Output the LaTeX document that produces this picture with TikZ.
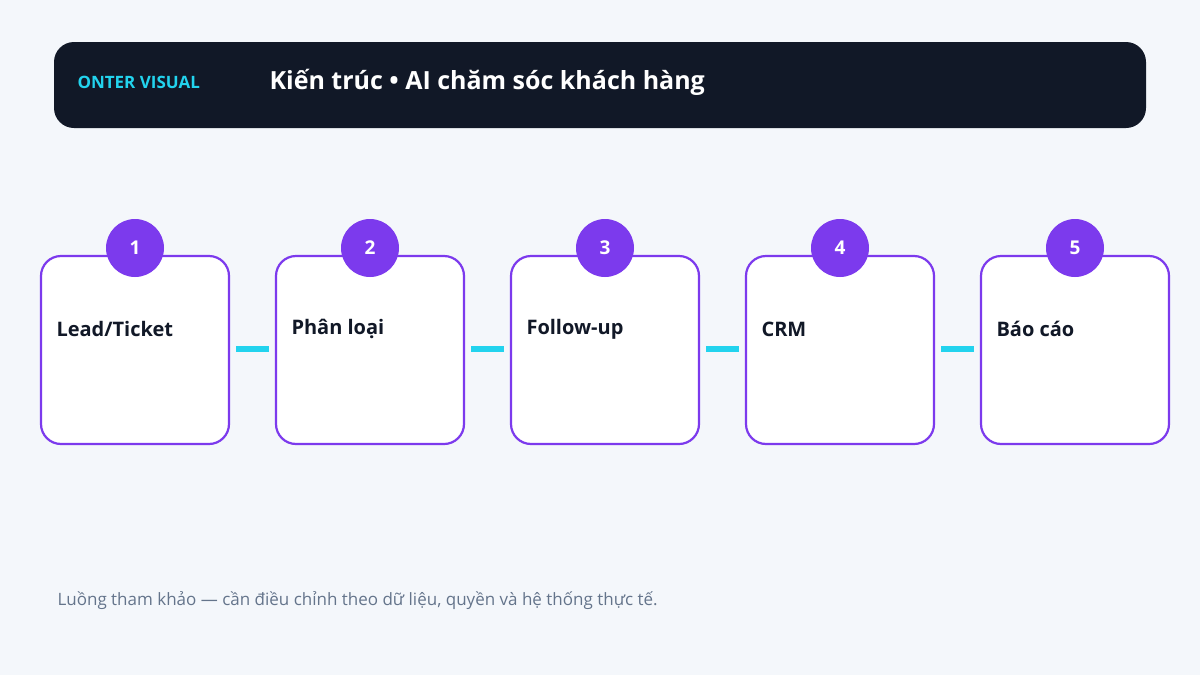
\documentclass[tikz,border=0pt]{standalone}
\usepackage{fontspec}
\setmainfont{Open Sans}
\definecolor{bg}{HTML}{F4F7FB}
\definecolor{hdr}{HTML}{111827}
\definecolor{cy}{HTML}{22D3EE}
\definecolor{pu}{HTML}{7C3AED}
\definecolor{ft}{HTML}{64748B}
\begin{document}
\begin{tikzpicture}[x=1pt,y=-1pt,
  box/.style={draw=pu,line width=2.2pt,fill=white,rounded corners=20pt,minimum width=188pt,minimum height=188pt,inner sep=0pt},
  num/.style={circle,fill=pu,minimum size=58pt,inner sep=0pt,text=white,font=\bfseries\fontsize{19}{19}\selectfont},
  lab/.style={anchor=west,font=\bfseries\fontsize{20}{20}\selectfont,text=hdr},
  conn/.style={draw=cy,line width=6pt}]
\useasboundingbox (0,0) rectangle (1200,675);
\fill[bg] (0,0) rectangle (1200,675);
\node[fill=hdr,rounded corners=20pt,minimum width=1092pt,minimum height=86pt] (hdr) at (600,85) {};
\node[anchor=west,text=cy,font=\bfseries\fontsize{17}{17}\selectfont] (brand) at (74,82) {ONTER VISUAL};
\node[anchor=west,text=white,font=\bfseries\fontsize{25}{25}\selectfont] (title) at (266,82) {Kiến trúc • AI chăm sóc khách hàng};
\foreach \i/\t in {1/{Lead/Ticket},2/Phân loại,3/Follow-up,4/CRM,5/Báo cáo}{
  \pgfmathsetmacro\cx{135+235*(\i-1)}
  \node[box] (b\i) at (\cx,350) {};
  \node[num] (n\i) at (\cx,248) {\i};
  \node[lab] (l\i) at (\cx-82,329) {\t};
}
\foreach \a/\b in {1/2,2/3,3/4,4/5}{
  \draw[conn] ([xshift=6pt]b\a.east |- 0,349) -- ([xshift=-6pt]b\b.west |- 0,349);
}
\node[anchor=west,text=ft,font=\fontsize{17}{17}\selectfont] (foot) at (54,601) {Luồng tham khảo — cần điều chỉnh theo dữ liệu, quyền và hệ thống thực tế.};
\end{tikzpicture}
\end{document}
